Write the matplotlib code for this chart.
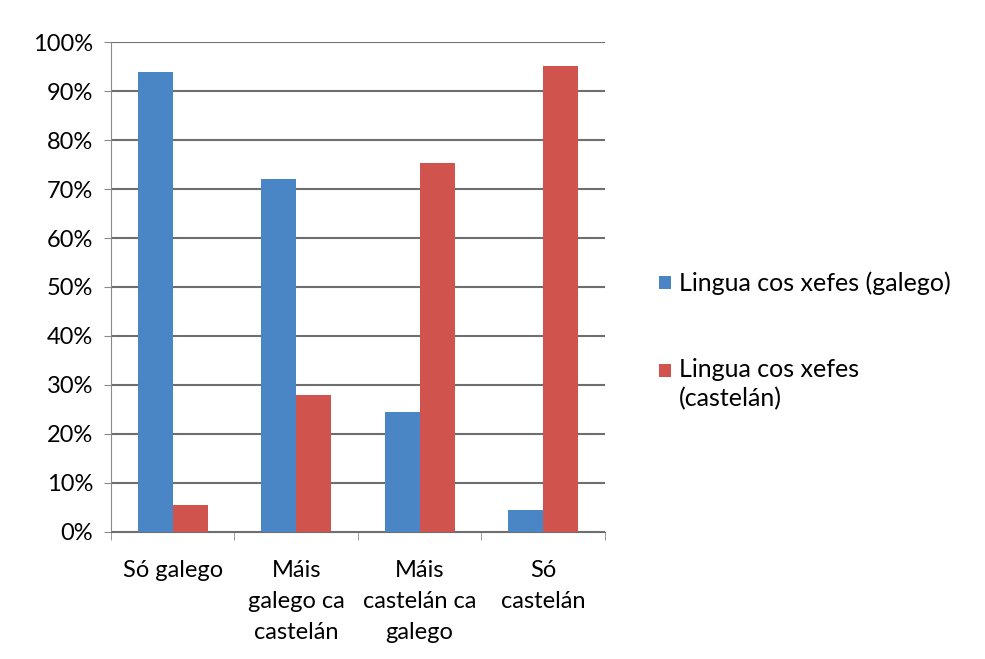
import matplotlib
matplotlib.use("Agg")
import matplotlib.pyplot as plt
import numpy as np
from matplotlib.ticker import FuncFormatter, MultipleLocator
from matplotlib.legend_handler import HandlerPatch

categories = ["Só galego", "Máis\ngalego ca\ncastelán", "Máis\ncastelán ca\ngalego", "Só\ncastelán"]
series_names = ["Lingua cos xefes (galego)", "Lingua cos xefes\n(castelán)"]
galego = [94, 72, 24.5, 4.5]
castelan = [5.5, 28, 75.3, 95.2]

plt.rcParams["font.family"] = ["Lato", "DejaVu Sans"]


class FirstLinePatch(HandlerPatch):
    """Legend swatch aligned with the first line of a wrapped label."""

    def __init__(self, shift, **kw):
        super().__init__(**kw)
        self.shift = shift

    def create_artists(self, legend, orig_handle, xdescent, ydescent,
                       width, height, fontsize, trans):
        arts = super().create_artists(legend, orig_handle, xdescent, ydescent,
                                      width, height, fontsize, trans)
        for a in arts:
            a.set_y(a.get_y() + self.shift * fontsize)
        return arts


fig = plt.figure(figsize=(9.85, 6.59), dpi=100)
ax = fig.add_axes([0.1127, 0.193, 0.614 - 0.1127, 0.743])

x = np.arange(len(categories))
w = 0.283
b1 = ax.bar(x - w / 2, galego, width=w, color="#4A85C6", label=series_names[0], zorder=3)
b2 = ax.bar(x + w / 2, castelan, width=w, color="#D0534E", label=series_names[1], zorder=3)

ax.set_xlim(-0.5, len(categories) - 0.5)
ax.set_ylim(0, 100)
ax.yaxis.set_major_locator(MultipleLocator(10))
ax.yaxis.set_major_formatter(FuncFormatter(lambda v, p: f"{int(v)}%"))
ax.grid(axis="y", color="#6e6e6e", linewidth=1.5, zorder=0)

for s in ["top", "right"]:
    ax.spines[s].set_visible(False)
ax.spines["left"].set_color("#8a8a8a")
ax.spines["bottom"].set_color("#6e6e6e")

ax.set_xticks(x)
ax.set_xticklabels(categories, fontsize=17, linespacing=1.6, va="top")
ax.tick_params(axis="x", length=0, pad=20)
ax.set_xticks(np.arange(-0.5, len(categories)), minor=True)
ax.tick_params(axis="x", which="minor", length=6, color="#8a8a8a")
ax.tick_params(axis="y", labelsize=17, length=5, color="#8a8a8a", pad=8)

h1, h2 = b1.patches[0], b2.patches[0]
leg = ax.legend(handles=[h1, h2], labels=series_names, loc="center left",
                bbox_to_anchor=(1.065, 0.39), frameon=False, fontsize=18,
                handlelength=0.45, handleheight=0.45, handletextpad=0.32,
                labelspacing=2.5, handler_map={h2: FirstLinePatch(0.55)})
for t in leg.get_texts():
    t.set_linespacing(1.3)

fig.savefig("out.png", dpi=100, facecolor="white")
